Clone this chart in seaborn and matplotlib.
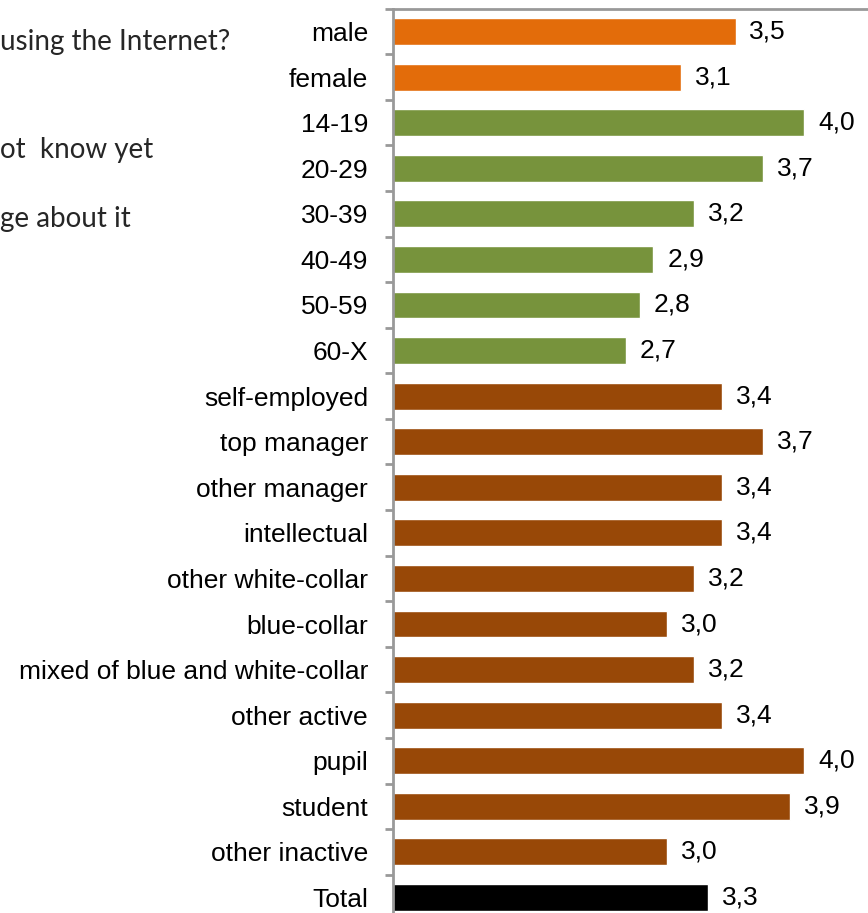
import matplotlib
matplotlib.use("Agg")
import matplotlib.pyplot as plt
import seaborn as sns
import pandas as pd

# Mean score by respondent group
categories = [
    "male", "female",
    "14-19", "20-29", "30-39", "40-49", "50-59", "60-X",
    "self-employed", "top manager", "other manager", "intellectual",
    "other white-collar", "blue-collar", "mixed of blue and white-collar",
    "other active", "pupil", "student", "other inactive",
    "Total",
]
values = [3.5, 3.1, 4.0, 3.7, 3.2, 2.9, 2.8, 2.7, 3.4, 3.7, 3.4, 3.4,
          3.2, 3.0, 3.2, 3.4, 4.0, 3.9, 3.0, 3.3]
groups = ["gender"] * 2 + ["age"] * 6 + ["occupation"] * 11 + ["total"]

# Side notes from the neighbouring panel
side_notes = ["using the Internet?", "ot  know yet", "ge about it"]

group_colors = {
    "gender": "#E36C0A",
    "age": "#77933C",
    "occupation": "#984807",
    "total": "#000000",
}

df = pd.DataFrame({"category": categories, "value": values, "group": groups})

sns.set_style("white")
plt.rcParams["font.family"] = ["Liberation Sans", "DejaVu Sans"]

W, H = 868, 913
fig = plt.figure(figsize=(W / 100, H / 100), dpi=100)

ax_left = 393 / W
ax_top = 1 - 8.7 / H
ax_bottom = (H - 920.3) / H
ax = fig.add_axes([ax_left, ax_bottom, 1 - ax_left, ax_top - ax_bottom])

sns.barplot(
    data=df, x="value", y="category", hue="group", palette=group_colors,
    order=categories, dodge=False, width=0.59, legend=False, ax=ax,
    saturation=1,
)

for cont in ax.containers:
    labels = [f"{v:.1f}".replace(".", ",") if v == v else "" for v in cont.datavalues]
    ax.bar_label(cont, labels=labels, padding=10, fontsize=19, color="#000000")

ax.set_xlim(1.0, 1.0 + (W - 393) / 137)
ax.set_ylim(len(categories) - 0.5, -0.5)
ax.set_xlabel("")
ax.set_ylabel("")
ax.set_xticks([])

ax.set_yticks([i + 0.5 for i in range(-1, len(categories))], minor=False)
ax.set_yticklabels([])
ax.set_yticks(range(len(categories)), minor=True)
ax.set_yticklabels(categories, minor=True, fontsize=19, color="#000000")
ax.tick_params(axis="y", which="major", length=6, width=2, color="#999999", left=True)
ax.tick_params(axis="y", which="minor", length=0, pad=18)

for side in ["left", "top"]:
    ax.spines[side].set_visible(True)
    ax.spines[side].set_color("#999999")
    ax.spines[side].set_linewidth(2)
ax.spines["right"].set_visible(False)
ax.spines["bottom"].set_visible(False)

note_y = [42, 150, 219]
for txt, y in zip(side_notes, note_y):
    fig.text(0, 1 - y / H, txt, ha="left", va="center", fontsize=20,
             family=["Lato", "DejaVu Sans"], color="#262626")

fig.savefig("out.png", dpi=100)
